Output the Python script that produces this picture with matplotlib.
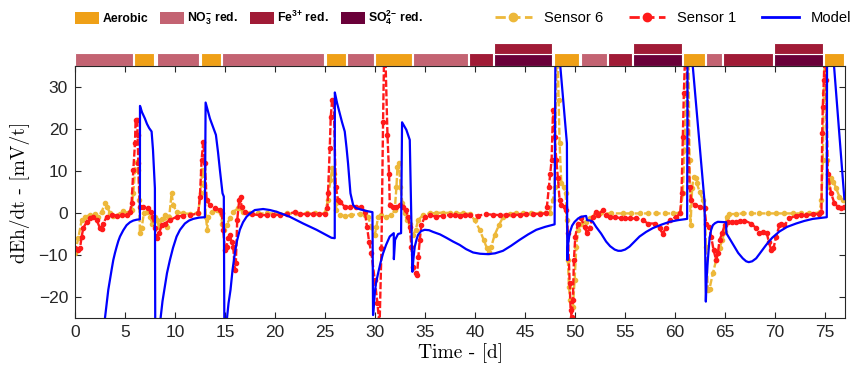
import numpy as np
import matplotlib.pyplot as plt
import matplotlib.transforms as mtransforms
from matplotlib.patches import Rectangle, Patch
from matplotlib.lines import Line2D

plt.rcParams['font.family'] = ['Liberation Sans', 'DejaVu Sans']
plt.rcParams['mathtext.fontset'] = 'custom'
plt.rcParams['mathtext.rm'] = 'Liberation Sans:bold'
plt.rcParams['mathtext.it'] = 'Liberation Sans:bold'
plt.rcParams['mathtext.bf'] = 'Liberation Sans:bold'

# Sensor 1 (red)
t1 = [0.0, 0.33, 0.5, 0.67, 0.83, 1.17, 1.5, 1.83, 2.17, 2.5, 2.67, 2.83, 3.17, 3.67, 4.17, 4.67,
      5.16, 5.5, 5.66, 5.83, 6.0, 6.06, 6.23, 6.26, 6.33, 6.49, 6.83, 7.33, 7.56, 7.76, 7.99, 8.22,
      8.42, 8.66, 8.99, 9.49, 10.16, 10.82, 11.49, 12.32, 12.49, 12.66, 12.82, 12.99, 13.16, 13.49,
      13.99, 14.49, 14.66, 14.82, 14.99, 15.15, 15.32, 15.48, 15.65, 15.82, 15.98, 16.08, 16.22,
      16.42, 16.55, 16.65, 16.98, 17.65, 18.48, 19.2, 19.81, 20.5, 21.15, 21.98, 22.48, 23.2, 23.81,
      24.4, 24.97, 25.24, 25.3, 25.47, 25.57, 25.71, 25.87, 26.07, 26.3, 26.47, 26.97, 27.47, 28.14,
      28.64, 28.97, 29.2, 29.4, 29.64, 29.97, 30.24, 30.45, 30.64, 30.8, 30.95, 31.24, 31.4, 31.47,
      31.8, 32.14, 32.47, 32.8, 33.07, 33.3, 33.47, 33.63, 33.8, 34.07, 34.2, 34.33, 34.47, 34.63,
      34.97, 35.46, 36.13, 36.8, 37.46, 38.0, 38.46, 39.0, 39.46, 40.3, 41.13, 41.8, 42.46, 43.1,
      43.79, 44.5, 45.12, 45.8, 46.45, 47.05, 47.18, 47.38, 47.52, 47.65, 47.79, 47.95, 48.12, 48.28,
      48.45, 48.62, 48.95, 49.12, 49.28, 49.45, 49.55, 49.65, 49.78, 49.88, 50.02, 50.28, 50.6,
      50.95, 51.18, 51.45, 51.78, 52.11, 52.28, 52.78, 53.12, 53.45, 53.95, 54.61, 55.0, 55.44,
      56.11, 56.77, 57.27, 57.94, 58.44, 58.77, 59.04, 59.44, 60.11, 60.51, 60.64, 60.77, 60.87,
      61.1, 61.44, 61.6, 61.94, 62.44, 62.94, 63.1, 63.37, 63.6, 63.84, 64.1, 64.27, 64.44, 64.71,
      64.94, 65.27, 65.7, 66.1, 66.5, 66.93, 67.6, 68.1, 68.43, 68.76, 69.16, 69.36, 69.6, 69.83,
      70.1, 70.43, 70.6, 70.93, 71.43, 72.1, 72.6, 73.1, 73.8, 74.43, 74.63, 74.7, 74.76, 74.87,
      75.0, 75.1, 75.26, 75.59, 75.93, 76.26, 76.59, 76.92]
v1 = [-8.4, -8.8, -8.4, -5.6, -3.6, -2.1, -1.3, -1.0, -1.7, -3.6, -3.9, -2.5, -0.9, -0.5, -0.6, -0.5,
      -0.5, 0.3, 2.3, 10.2, 16.6, 22.1, 22.1, 18.6, 11.8, 1.5, 1.5, 1.1, 0.3, -0.9, -3.6, -6.0,
      -4.8, -2.9, -2.5, -1.7, -0.9, -0.6, -0.5, -0.1, 3.9, 12.6, 17.0, 11.8, 3.1, 1.9,
      1.1, 0.7, -0.1, -4.0, -8.8, -8.0, -6.0, -5.2, -6.8, -8.0, -13.6, -12.0, -1.7,
      3.1, 3.9, 1.5, 0.3, -0.3, -0.5, -0.5, -0.5, -0.4, -0.3, 0.2, -0.2, -0.3, -0.2,
      -0.2, -0.2, 1.1, 4.7, 15.4, 22.9, 26.9, 26.5, 6.3, 3.1, 2.7, 1.5, 1.5, 1.5,
      1.5, 0.3, -3.3, -6.8, -9.6, -16.0, -21.5, -27.0, -8.4, 21.7, 45.0, 18.6, 9.4, 1.9,
      1.5, 1.5, 1.9, 1.5, 0.7, -0.9, -3.3, -8.0, -12.8, -14.4, -14.8, -10.4, -6.4, -2.9,
      -0.9, -0.5, -0.9, -0.6, -0.5, -0.5, -0.6, -0.5, -0.5, -0.6, -0.3, -0.4, -0.5, -0.4,
      -0.5, -0.4, -0.3, -0.3, -0.2, -0.1, 1.5, 6.3, 9.4, 12.6, 24.5, 18.2, 12.6, 8.3,
      3.1, 1.9, 1.5, 0.7, -4.8, -16.7, -23.1, -24.7, -20.7, -11.2, -5.6, -2.5, -1.3,
      -3.3, -4.8, -3.6, -0.9, 0.3, -0.5, 0.7, -0.5, -0.9, -0.9, -1.3, -1.2, -1.3,
      -1.3, -1.7, -2.5, -2.5, -3.6, -5.0, -3.6, -1.7, -0.9, -0.1, 4.7, 18.2, 28.5,
      45.0, 6.3, 3.1, 1.9, 1.5, 1.1, -2.5, -3.3, -5.6, -8.8, -11.2, -9.6, -6.4, -4.8,
      -2.9, -2.2, -2.1, -2.1, -1.9, -1.8, -2.5, -3.6, -4.8, -4.5, -4.8, -6.8, -8.8, -8.4,
      -5.6, -2.9, -2.5, -2.9, -1.3, -0.6, -0.5, -0.5, -0.3, -0.2, 0.3, 19.0, 25.3, 31.7,
      45.0, 31.7, 9.4, 4.7, 2.3, 1.5, 1.1, 1.5]

# Sensor 6 (yellow)
t6 = [0.0, 0.33, 0.67, 1.0, 1.5, 2.0, 2.33, 2.67, 3.0, 3.23, 3.5, 3.83, 4.5, 4.83, 5.32, 5.66,
      5.83, 6.0, 6.16, 6.33, 6.43, 6.49, 6.66, 6.89, 7.23, 7.49, 7.73, 7.99, 8.16, 8.42, 8.66,
      8.99, 9.22, 9.42, 9.66, 9.82, 10.16, 10.82, 11.49, 12.32, 12.56, 12.72, 12.92, 13.09, 13.22,
      13.32, 13.66, 14.16, 14.55, 14.72, 14.92, 15.15, 15.48, 15.82, 16.32, 16.81, 17.48, 18.3,
      19.15, 20.1, 21.15, 22.1, 23.15, 24.0, 24.97, 25.3, 25.54, 25.71, 25.87, 26.07, 26.14, 26.47,
      26.97, 27.64, 28.47, 28.97, 29.3, 29.64, 29.97, 30.14, 30.3, 30.64, 31.14, 31.64, 31.97,
      32.14, 32.24, 32.4, 32.54, 32.74, 32.97, 33.2, 33.47, 33.8, 34.07, 34.3, 34.8, 35.46, 36.1,
      36.8, 37.5, 38.13, 38.8, 39.46, 39.96, 40.46, 40.86, 41.19, 41.39, 41.62, 41.96, 42.39,
      42.79, 43.46, 44.1, 44.79, 45.6, 46.45, 47.45, 47.79, 47.95, 48.2, 48.35, 48.45, 48.62,
      48.85, 49.05, 49.18, 49.28, 49.38, 49.52, 49.78, 49.95, 50.12, 50.28, 50.6, 51.05, 51.45,
      51.95, 52.45, 53.6, 54.78, 55.6, 56.44, 57.3, 58.1, 59.0, 59.77, 60.51, 60.77, 60.93, 61.1,
      61.3, 61.44, 61.54, 61.7, 61.84, 62.04, 62.17, 62.44, 62.78, 62.94, 63.1, 63.27, 63.44,
      63.77, 64.1, 64.44, 64.71, 64.94, 65.17, 65.43, 66.1, 66.76, 67.6, 68.43, 69.3, 70.1, 70.9,
      71.76, 72.6, 73.43, 74.43, 74.63, 74.76, 74.87, 75.0, 75.16, 75.33, 75.59, 75.83, 76.09,
      76.42, 76.75, 76.92]
v6 = [-9.6, -6.0, -1.7, -0.9, -0.5, -0.2, -0.9, 0.3, 2.3, 1.5, -0.1, -0.7, -0.2, 0.5, -0.1, 0.7,
      4.7, 10.2, 12.2, 10.2, 3.1, -4.8, -3.6, -0.1, 0.3, -0.9, -2.5, -0.9, -1.7, -3.3, -1.5,
      -0.5, -3.3, -0.9, 4.7, 1.9, 0.3, -0.1, -0.2, 0.1, 4.7, 10.2, 6.7, -0.9, -4.0,
      -0.9, 0.3, 0.7, -0.1, -2.5, -4.0, -2.9, -1.3, 0.3, 1.1, 0.3, -0.1, -0.1,
      -0.1, -0.1, -0.1, -0.1, -0.1, -0.1, -0.1, 3.1, 7.9, 10.6, 9.4, 2.3, 0.7, -0.5,
      -0.7, -0.5, -0.2, -0.5, -0.9, -3.3, -5.2, -3.3, -0.9, -0.5, -0.9, -0.5, 0.7,
      6.3, 11.0, 11.8, 6.3, 2.3, -0.1, -1.7, -2.5, -5.2, -4.0, -1.7, -0.5, -0.1, 0.0,
      0.1, 0.0, -0.1, -0.1, -0.2, -1.7, -4.0, -6.4, -8.4, -9.2, -8.0, -5.2, -2.9,
      -1.0, -0.2, -0.1, -0.1, -0.1, -0.1, 0.1, 3.1, 6.3, 45.0, 26.9, 16.6, 7.1,
      6.3, 4.7, -1.7, -11.2, -17.5, -20.7, -22.3, -16.0, -8.0, -4.0, -2.5, -2.1, -1.3,
      -0.5, -0.1, -0.1, -0.1, -0.1, -0.1, -0.1, -0.1, -0.1, -0.1, 0.1, 4.7, 15.0, 28.5,
      45.0, 12.6, -2.9, 5.9, 8.6, 8.3, 7.1, 5.1, 3.1, 1.1, -8.0, -18.3, -18.0,
      -14.4, -11.2, -8.4, -6.4, -4.5, -0.9, -0.3, -0.2, -0.1, -0.1, -0.1, -0.1, -0.1, -0.1,
      -0.1, -0.1, -0.1, 0.1, 3.1, 12.6, 28.5, 45.0, 12.6, 6.3, 8.3, 7.4, 5.9,
      3.9, 3.1, 3.1]

# Model (blue)
tm = [2.7, 3.0, 3.17, 3.33, 3.5, 3.67, 3.83, 4.0, 4.17, 4.33, 4.5, 4.83, 5.16, 5.5, 5.83, 6.16, 6.49,
      6.5, 6.7, 6.99, 7.2, 7.42, 7.66, 7.8, 7.9, 7.99, 8.06,
      8.56, 8.75, 8.99, 9.2, 9.49, 9.8, 10.16, 10.5, 10.99, 11.4, 11.82, 12.4, 12.99,
      13.06, 13.3, 13.49, 13.8, 14.09, 14.3, 14.49, 14.75, 14.88, 14.99,
      15.2, 15.35, 15.55, 15.75, 15.98, 16.2, 16.48, 16.8, 17.15, 17.5, 17.98, 18.81, 19.5, 20.15,
      21.48, 22.81, 24.15, 25.64, 25.97,
      25.98, 26.2, 26.47, 26.7, 26.97, 27.15, 27.3, 27.54, 27.81, 28.1, 28.47, 29.1, 29.74,
      29.8, 29.97, 30.1, 30.3, 30.55, 30.8, 31.1, 31.47, 31.87, 31.88, 32.0, 32.3, 32.6,
      32.7, 33.13, 33.47, 33.73, 33.85, 33.97, 34.15, 34.3, 34.6, 34.97, 35.4, 35.8, 36.5, 37.13,
      37.8, 38.46, 39.1, 39.8, 40.5, 41.29, 42.0, 42.79, 43.6, 44.45, 45.3, 46.12, 47.0, 47.95,
      48.05, 49.18, 49.22, 49.3, 49.45, 49.7, 49.95, 50.3, 50.6, 51.1, 51.2, 51.5, 51.78, 52.1,
      52.6, 53.1, 53.5, 53.95, 54.3, 54.6, 55.0, 55.44, 55.9, 56.44, 57.1, 57.77, 58.6, 59.44,
      60.3, 61.2, 61.25, 62.94, 63.07, 63.15, 63.27, 63.44, 63.6, 63.77, 64.0, 64.27, 65.1,
      65.12, 65.5, 65.93, 66.3, 66.76, 67.1, 67.36, 67.7, 68.1, 68.6, 69.1, 69.7, 70.43, 71.2,
      72.1, 72.9, 73.76, 74.5, 75.16, 75.2, 76.92]
vm = [-40.0, -25.0, -21.5, -18.3, -15.8, -13.4, -11.2, -9.5, -8.0, -6.7, -5.6, -4.1, -2.9, -2.2, -1.8, -1.6, -1.5,
      25.5, 24.0, 22.5, 21.2, 20.2, 19.4, 15.0, 10.0, 5.9, -60.0,
      -25.0, -21.0, -17.5, -14.3, -11.2, -8.3, -5.6, -4.0, -2.5, -1.8, -1.4, -1.1, -1.0,
      26.3, 24.2, 22.5, 20.5, 18.6, 14.5, 10.2, 4.7, 3.9, -60.0,
      -25.0, -21.5, -18.3, -13.6, -9.6, -6.6, -4.0, -2.2, -0.9, -0.1, 0.7, 0.95, 0.7, 0.3,
      -0.9, -2.5, -4.0, -5.9, -6.0,
      28.7, 26.2, 23.7, 21.6, 19.4, 15.5, 11.8, 4.7, 1.9, 1.2, 0.9, 0.5, 0.2,
      -24.3, -19.1, -16.6, -14.4, -11.8, -9.6, -7.6, -5.6, -4.8, -11.0, -6.4, -5.0, -4.8,
      21.6, 19.8, 17.4, -14.0, -10.5, -8.0, -6.3, -5.2, -4.3, -4.0, -4.1, -4.5, -5.1, -5.9,
      -6.8, -7.6, -8.6, -9.4, -9.7, -9.8, -9.6, -9.0, -7.8, -6.4, -5.1, -4.0, -3.3, -2.7,
      48.0, 16.6, -11.2, -7.5, -4.8, -3.0, -2.1, -1.3, -0.9, -0.7, -1.7, -1.8, -2.1, -3.3,
      -4.9, -6.8, -7.9, -8.7, -9.0, -9.0, -8.7, -8.0, -6.9, -5.6, -4.5, -3.6, -2.8, -2.1,
      -1.7, -1.4, 49.0, 2.7, -21.1, -15.5, -11.2, -6.0, -4.0, -2.9, -2.4, -2.1, -2.2,
      -4.8, -6.3, -8.0, -9.5, -10.8, -11.5, -11.7, -11.5, -10.8, -9.2, -7.6, -5.9, -4.4, -3.3,
      -2.5, -1.9, -1.4, -1.2, -1.0, 56.0, 3.3]

# redox phases along the top
phase_start = [0.0, 5.9, 8.2, 12.6, 14.7, 25.1, 27.2, 30.0, 33.8, 39.35, 41.9, 47.85, 50.6, 53.3,
               55.8, 60.8, 63.1, 64.75, 69.9, 74.9]
phase_end = [5.8, 7.9, 12.4, 14.6, 24.9, 27.1, 29.9, 33.7, 39.25, 41.8, 47.7, 50.4, 53.2, 55.7,
             60.7, 63.0, 64.65, 69.8, 74.8, 76.9]
phase_kind = ['no3', 'aer', 'no3', 'aer', 'no3', 'aer', 'no3', 'aer', 'no3', 'fe', 'so4', 'aer',
              'no3', 'fe', 'so4', 'aer', 'no3', 'fe', 'so4', 'aer']

phase_col = {'aer': '#EFA017', 'no3': '#C36372', 'fe': '#A01B36', 'so4': '#6A0039'}
phase_lab = ['Aerobic', r'NO$_3^{-}$ red.', r'Fe$^{3{+}}$ red.', r'SO$_4^{2{-}}$ red.']

fig = plt.figure(figsize=(8.52, 3.75), dpi=100)
ax = fig.add_axes([0.088, 0.152, 0.904, 0.672])

ax.plot(t6, v6, '--', color='#EDB83A', lw=1.7, marker='.', ms=6, dashes=(3, 1), label='Sensor 6')
ax.plot(t1, v1, '--', color='#FF1A1A', lw=1.7, marker='.', ms=6, dashes=(3, 1), label='Sensor 1')
ax.plot(tm, vm, '-', color='#0000FF', lw=1.6, label='Model')

ax.set_xlim(0, 77)
ax.set_ylim(-25, 35)
ax.set_xticks(np.arange(0, 76, 5))
ax.set_yticks(np.arange(-20, 31, 10))
ax.tick_params(direction='in', top=True, right=True, length=4, width=0.8, labelsize=12.5,
               colors='#262626', pad=5)
for s in ax.spines.values():
    s.set_linewidth(0.8)
    s.set_color('#262626')

ax.set_xlabel('Time - [d]', family='cmr10', fontsize=14, labelpad=2)
ax.set_ylabel('dEh/dt - [mV/t]', family='cmr10', fontsize=14, labelpad=6)

trans = mtransforms.blended_transform_factory(ax.transData, ax.transAxes)
for a, b, k in zip(phase_start, phase_end, phase_kind):
    if k == 'so4':
        ax.add_patch(Rectangle((a, 1.0), b - a, 0.048, transform=trans, clip_on=False,
                               facecolor=phase_col['so4'], edgecolor='white', lw=0.8))
        ax.add_patch(Rectangle((a, 1.048), b - a, 0.044, transform=trans, clip_on=False,
                               facecolor=phase_col['fe'], edgecolor='white', lw=0.8))
    else:
        ax.add_patch(Rectangle((a, 1.0), b - a, 0.05, transform=trans, clip_on=False,
                               facecolor=phase_col[k], edgecolor='white', lw=0.8))

ph = [Patch(facecolor=phase_col[k]) for k in ['aer', 'no3', 'fe', 'so4']]
fig.legend(ph, phase_lab, loc='center left', bbox_to_anchor=(0.088, 0.952), ncol=4,
           frameon=False, prop={'weight': 'bold', 'size': 8.8}, handlelength=2.0,
           handleheight=1.1, handletextpad=0.25, columnspacing=0.95, borderpad=0,
           borderaxespad=0)

lh = [Line2D([], [], ls='--', color='#EDB83A', lw=2, marker='o', ms=6),
      Line2D([], [], ls='--', color='#FF1A1A', lw=2, marker='o', ms=6),
      Line2D([], [], ls='-', color='#0000FF', lw=2)]
fig.legend(lh, ['Sensor 6', 'Sensor 1', 'Model'], loc='center left', bbox_to_anchor=(0.581, 0.952),
           ncol=3, frameon=False, prop={'size': 10.6}, handlelength=2.5, handletextpad=0.8,
           columnspacing=1.75, borderpad=0, borderaxespad=0)

fig.savefig('out.png', dpi=100)
